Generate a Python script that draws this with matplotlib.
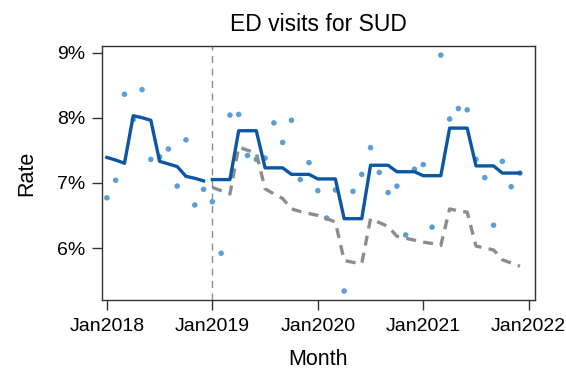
import numpy as np
import matplotlib.pyplot as plt

plt.rcParams['font.family'] = ['Liberation Sans', 'DejaVu Sans']

# months since Jan2018
month = np.arange(48)
tick_pos = [0, 12, 24, 36, 48]
tick_labels = ['Jan2018', 'Jan2019', 'Jan2020', 'Jan2021', 'Jan2022']

# observed monthly rate (%)
rate = [6.77, 7.04, 8.36, 7.97, 8.43, 7.36, 7.40, 7.52, 6.95, 7.66, 6.66, 6.90,
        6.71, 5.92, 8.04, 8.05, 7.42, 7.36, 7.38, 7.92, 7.62, 7.96, 7.05, 7.31,
        6.88, 6.46, 6.89, 5.34, 6.87, 7.13, 7.54, 7.16, 6.85, 6.95, 6.20, 7.21,
        7.28, 6.32, 8.96, 7.98, 8.14, 8.12, 7.36, 7.08, 6.35, 7.33, 6.94, 7.15]

# fitted, pre period (Jan2018-Dec2018)
fit_pre = [7.39, 7.35, 7.30, 8.03, 8.00, 7.96, 7.33, 7.29, 7.25, 7.10, 7.07, 7.03]

# fitted, post period (Jan2019-Dec2021)
fit_post = [7.05, 7.05, 7.05, 7.80, 7.80, 7.80, 7.23, 7.23, 7.23, 7.13, 7.13, 7.13,
            7.06, 7.06, 7.06, 6.45, 6.45, 6.45, 7.27, 7.27, 7.27, 7.17, 7.17, 7.17,
            7.11, 7.11, 7.11, 7.84, 7.84, 7.84, 7.26, 7.26, 7.26, 7.15, 7.15, 7.15]

# counterfactual (dashed)
counterfactual = [6.93, 6.88, 6.83, 7.55, 7.50, 7.46, 6.91, 6.83, 6.76, 6.60, 6.56, 6.53,
                  6.50, 6.45, 6.40, 5.81, 5.78, 5.76, 6.45, 6.39, 6.33, 6.18, 6.15, 6.12,
                  6.09, 6.07, 6.04, 6.60, 6.57, 6.55, 6.03, 6.00, 5.97, 5.82, 5.77, 5.72]

fig = plt.figure(figsize=(5.66, 3.71), dpi=100)
ax = fig.add_axes([0.180, 0.191, 0.765, 0.685])

ax.axvline(12, color='#8c8c8c', lw=1.0, ls=(0, (5, 4)), zorder=1)
ax.scatter(month, rate, s=16, color='#5b9fd8', edgecolors='none', zorder=2)
ax.plot(month[:12], fit_pre, color='#0b57a4', lw=2.4, zorder=4)
ax.plot(month[12:], counterfactual, color='#8c8c8c', lw=2.4, ls=(0, (3, 2.2)), zorder=3)
ax.plot(month[12:], fit_post, color='#0b57a4', lw=2.4, zorder=4)

ax.set_xlim(-0.57, 48.7)
ax.set_ylim(5.2, 9.1)
ax.set_xticks(tick_pos)
ax.set_xticklabels(tick_labels)
ax.set_yticks([6, 7, 8, 9])
ax.set_yticklabels(['6%', '7%', '8%', '9%'])
ax.tick_params(labelsize=14, length=7, width=1, color='#333333', pad=6)
ax.tick_params(axis='y', pad=5)
for s in ax.spines.values():
    s.set_color('#333333')
    s.set_linewidth(1)

ax.set_xlabel('Month', fontsize=15.5, labelpad=10)
ax.set_ylabel('Rate', fontsize=15.5, labelpad=14)
ax.set_title('ED visits for SUD', fontsize=16.5, pad=11)

fig.savefig('out.png', dpi=100)
